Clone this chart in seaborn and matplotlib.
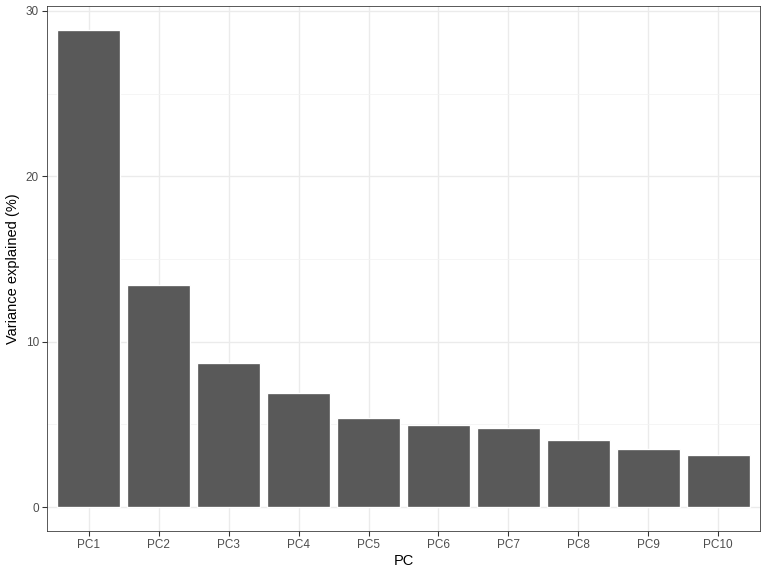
import pandas as pd
import matplotlib
matplotlib.use("Agg")
import matplotlib.pyplot as plt
import seaborn as sns

pcs = ["PC1", "PC2", "PC3", "PC4", "PC5", "PC6", "PC7", "PC8", "PC9", "PC10"]
variance = [28.85, 13.45, 8.73, 6.91, 5.40, 4.98, 4.80, 4.07, 3.53, 3.17]

df = pd.DataFrame({"PC": pcs, "variance": variance})

sns.set_style("white")
plt.rcParams["font.family"] = ["Liberation Sans", "DejaVu Sans"]

fig = plt.figure(figsize=(8, 6), dpi=96)
ax = fig.add_axes([47 / 768, 1 - 531 / 576, (760 - 47) / 768, (531 - 6) / 576])

sns.barplot(data=df, x="PC", y="variance", color="#595959", width=0.9,
            saturation=1, ax=ax, zorder=3)

ymax = max(variance)
ax.set_ylim(-0.05 * ymax, ymax * 1.05)
ax.set_xlim(-0.6, len(pcs) - 0.4)

ax.set_yticks([0, 10, 20, 30])
ax.set_yticks([5, 15, 25], minor=True)
ax.grid(True, which="major", color="#EBEBEB", linewidth=1.0, zorder=0)
ax.yaxis.grid(True, which="minor", color="#F3F3F3", linewidth=0.6, zorder=0)
ax.set_axisbelow(True)

for s in ax.spines.values():
    s.set_visible(True)
    s.set_color("#333333")
    s.set_linewidth(0.6)

ax.tick_params(axis="both", which="major", bottom=True, left=True, direction="out",
               length=3.5, width=0.8, color="#333333",
               labelsize=8.8, labelcolor="#4D4D4D", pad=2.5)
ax.tick_params(axis="y", which="minor", length=0)

ax.set_xlabel("PC", fontsize=11, color="black", labelpad=2)
ax.set_ylabel("Variance explained (%)", fontsize=11, color="black", labelpad=4)

fig.savefig("out.png", dpi=96)
